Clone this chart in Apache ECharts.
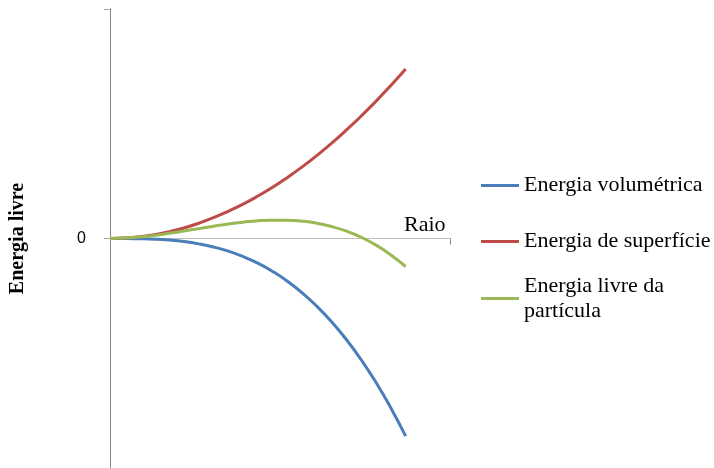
<!DOCTYPE html>
<html>
<head>
<meta charset="utf-8">
<script src="https://cdn.jsdelivr.net/npm/echarts@6/dist/echarts.min.js"></script>
<style>
  html, body { margin: 0; padding: 0; background: #fff; }
  #chart { width: 714px; height: 468px; }
</style>
</head>
<body>
<div id="chart"></div>
<script>
// Particle radius (arbitrary units)
const radius = [0, 0.05, 0.1, 0.15, 0.2, 0.25, 0.3, 0.35, 0.4, 0.45, 0.5,
                0.55, 0.6, 0.65, 0.7, 0.75, 0.8, 0.85, 0.9, 0.95, 1.0];
// Volume free energy (negative, grows with r^3)
const volumetrica = [0, 0, -2, -6, -14, -27, -47, -74, -110, -157, -215,
                     -287, -372, -473, -591, -727, -882, -1058, -1255, -1477, -1722];
// Surface energy (positive, grows with r^2)
const superficie = [0, 4, 15, 33, 59, 92, 133, 181, 237, 299, 370,
                    447, 532, 624, 724, 831, 946, 1068, 1197, 1334, 1478];
// Net free energy of the particle
const livre = [0, 4, 13, 27, 45, 65, 86, 107, 127, 142, 155,
               160, 160, 151, 133, 104, 64, 10, -58, -143, -244];

const seriesNames = ['Energia volumétrica', 'Energia de superfície', 'Energia livre da partícula'];
const seriesColors = ['#4A7EBB', '#BE4B48', '#98B954'];
const seriesValues = [volumetrica, superficie, livre];

const chart = echarts.init(document.getElementById('chart'), null, { renderer: 'canvas' });

const legendText = {
  fontFamily: 'Liberation Serif',
  fontSize: 22,
  lineHeight: 25,
  color: '#000'
};

const option = {
  animation: false,
  backgroundColor: '#fff',
  grid: { left: 110, top: 9, width: 340, height: 460, containLabel: false },
  xAxis: {
    type: 'value',
    min: 0,
    max: 1.15,
    interval: 1.15,
    name: 'Raio',
    nameLocation: 'end',
    nameGap: -46,
    nameTextStyle: {
      fontFamily: 'Liberation Serif',
      fontSize: 22,
      color: '#000',
      align: 'left',
      verticalAlign: 'bottom',
      padding: [0, 0, 2, 0]
    },
    axisLine: { show: true, onZero: true, lineStyle: { color: '#BFBFBF', width: 1 } },
    axisTick: { show: true, length: 6, lineStyle: { color: '#888' } },
    axisLabel: { show: false },
    splitLine: { show: false }
  },
  yAxis: {
    type: 'value',
    min: -2000,
    max: 2000,
    interval: 2000,
    name: 'Energia livre',
    nameLocation: 'middle',
    nameGap: 82,
    nameRotate: 90,
    nameTextStyle: {
      fontFamily: 'Liberation Serif',
      fontSize: 20,
      fontWeight: 'bold',
      color: '#000'
    },
    axisLine: { show: true, lineStyle: { color: '#868686', width: 1 } },
    axisTick: { show: true, length: 6, lineStyle: { color: '#A6A6A6' } },
    axisLabel: {
      margin: 24,
      fontFamily: 'Liberation Sans',
      fontSize: 16,
      color: '#000',
      padding: [0, 0, 6, 0],
      formatter: v => (v === 0 ? '0' : '')
    },
    splitLine: { show: false }
  },
  legend: seriesNames.map((name, i) => ({
    data: [name],
    orient: 'vertical',
    left: 481,
    top: [173, 229, 261][i],
    padding: 0,
    icon: 'rect',
    itemWidth: 38,
    itemHeight: 3,
    formatter: n => n.replace(' da ', ' da\n'),
    textStyle: i === 2 ? Object.assign({ padding: [25, 0, 0, 0] }, legendText) : legendText
  })),
  series: seriesNames.map((name, i) => ({
    name: name,
    type: 'line',
    smooth: true,
    symbol: 'none',
    color: seriesColors[i],
    lineStyle: { width: 3, color: seriesColors[i] },
    data: radius.map((r, k) => [r, seriesValues[i][k]])
  }))
};

chart.setOption(option);
</script>
</body>
</html>
